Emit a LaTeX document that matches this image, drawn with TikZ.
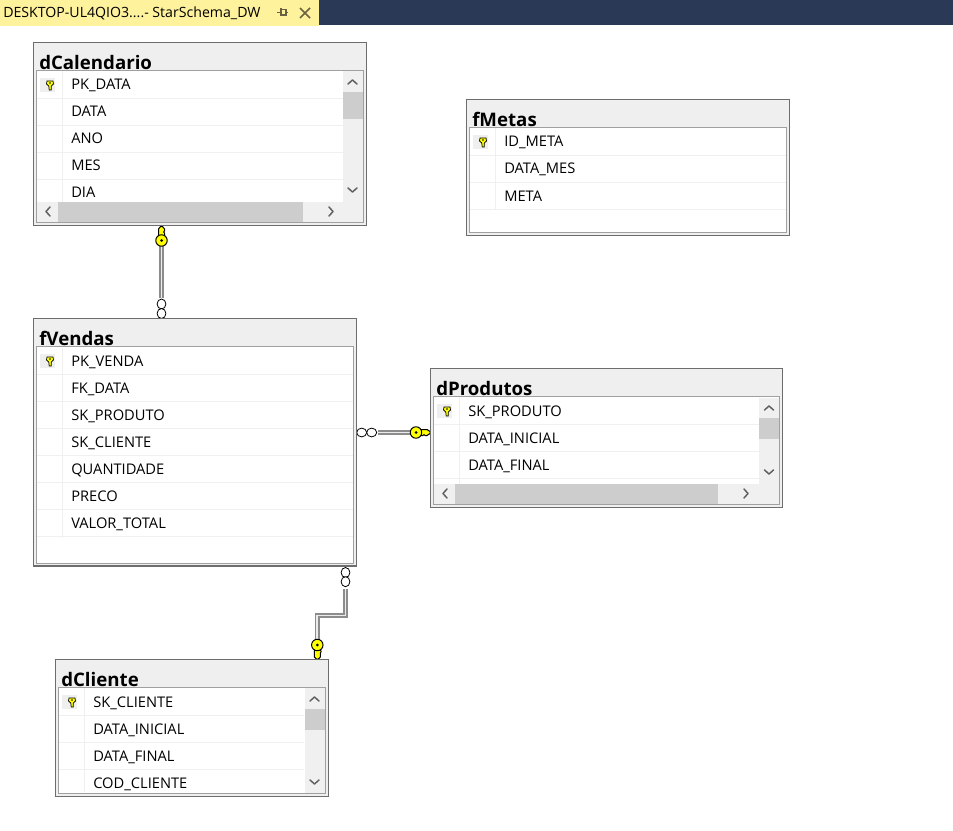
\documentclass[tikz,border=0pt]{standalone}
\usepackage{fontspec}
\setmainfont{Open Sans}
\usetikzlibrary{shapes.geometric}
\definecolor{outerc}{HTML}{6D6D6D}
\definecolor{innerc}{HTML}{A0A0A0}
\definecolor{headc}{HTML}{EFEFEF}
\definecolor{sepc}{HTML}{F0F0F0}
\definecolor{thumbc}{HTML}{CDCDCD}
\definecolor{tabc}{HTML}{FFF29D}
\definecolor{navyc}{HTML}{2A3A56}
\definecolor{keyc}{HTML}{FFFF00}
\definecolor{arrowc}{HTML}{606060}
\definecolor{iconc}{HTML}{6B6242}
\tikzset{
  x=0.75pt,y=-0.75pt,
  frameouter/.style={draw=outerc,line width=1.1pt,fill=headc},
  frameinner/.style={draw=innerc,line width=1pt,fill=white},
  rowsep/.style={draw=sepc,line width=1pt},
  titletext/.style={anchor=base west,inner sep=0pt,font=\fontsize{14}{17}\selectfont\bfseries},
  rowtext/.style={anchor=base west,inner sep=0pt,font=\fontsize{11}{13}\selectfont},
  chev/.style={draw=arrowc,line width=1.1pt,line cap=round,line join=round},
  relline/.style={draw=black!45,line width=3.5pt,line cap=butt,line join=miter},
  relinner/.style={draw=black!8,line width=1.3pt,line cap=butt,line join=miter},
  ringv/.style={draw=black,line width=0.6pt,fill=white,ellipse,inner sep=0pt,minimum width=6.6pt,minimum height=7.5pt},
  ringh/.style={draw=black,line width=0.6pt,fill=white,ellipse,inner sep=0pt,minimum width=7.5pt,minimum height=6.6pt},
  keyhead/.style={draw=black,line width=0.75pt,fill=keyc,ellipse,inner sep=0pt,minimum width=8.6pt,minimum height=8.6pt},
  keystem/.style={draw=black,line width=0.75pt,fill=keyc,line join=round},
}
% mini key glyph at (x,y)
\newcommand{\minikey}[2]{%
  \fill[headc] (#1-10,#2-7) rectangle (#1+5,#2+7);
  \draw[black,line width=0.55pt,fill=keyc] (#1-3,#2-4) -- (#1+3,#2-4) -- (#1+3.5,#2-1) -- (#1+1.3,#2+1) -- (#1+1.3,#2+5) -- (#1-0.8,#2+5) -- (#1-1.2,#2+1) -- (#1-3.5,#2-1) -- cycle;
  \fill[black] (#1,#2-2) circle (0.9);
}
% table frame: name, x1,y1,x2,y2, inner y top, inner y bottom, gutter x, title
\newcommand{\tableframe}[9]{%
  \node[frameouter,minimum width=#4*0.75pt-#2*0.75pt,minimum height=#5*0.75pt-#3*0.75pt,inner sep=0pt,outer sep=0pt,anchor=north west] (#1) at (#2,#3) {};
  \node[titletext] (#1title) at (#2+5.5,#6-1) {#9};
  \draw[frameinner] (#2+3,#6) rectangle (#4-3,#7);
  \draw[rowsep] (#8,#6+1) -- (#8,#7-1);
}
\newcommand{\fieldrow}[4]{\node[rowtext] (#1) at (#2,#3) {#4};}
\begin{document}
\begin{tikzpicture}
\useasboundingbox (0,0) rectangle (953,831);
\fill[white] (0,0) rectangle (953,831);
% tab bar
\fill[navyc] (319,0) rectangle (953,25);
\fill[tabc] (0,0) rectangle (319,26.5);
\node[anchor=base west,inner sep=0pt,font=\fontsize{10.6}{13}\selectfont] (tabtitle) at (3,18) {DESKTOP-UL4QIO3....- StarSchema\_DW};
\draw[iconc,line width=0.8pt] (277,12.5) -- (281,12.5) (281,8.5) -- (281,16.5) (281,9.5) -- (286,9.5) -- (286,15) -- (281,15) (286,12.5) -- (288,12.5);
\draw[iconc,line width=1.3pt] (300,8) -- (310,18) (310,8) -- (300,18);

% === connectors
\node[ringv] (r1a) at (161.5,304) {};
\node[ringv] (r1b) at (161.5,313.5) {};
\node[ringh] (r2a) at (361.7,432.5) {};
\node[ringh] (r2b) at (371.7,432.5) {};
\node[ringv] (r3a) at (345.5,572.5) {};
\node[ringv] (r3b) at (345.5,581.7) {};
\coordinate (k1c) at (161.5,240.5);
\coordinate (k2c) at (416,432.5);
\coordinate (k3c) at (317.3,645);
\coordinate (b1) at (345.5,615.5);
\coordinate (b2) at (317.3,615.5);

\draw[relline] (161.5,298) -- (k1c);
\draw[relinner] (161.5,298) -- (k1c);
\draw[relline] (378,432.5) -- (k2c);
\draw[relinner] (378,432.5) -- (k2c);
\draw[relline] (345.5,589) -- (b1) -- (b2) -- (k3c);
\draw[relinner] (345.5,589) -- (b1) -- (b2) -- (k3c);

% big keys
\draw[keystem] (160.5,226.5) -- (162.5,226.5) -- (164.5,229) -- (164.5,231) -- (163.5,232) -- (164.5,233) -- (164.5,238) -- (158.5,238) -- (158.5,229) -- cycle;
\node[keyhead] (k1) at (k1c) {};
\fill[black] (k1c) circle (1.5);
\draw[keystem] (430,431.5) -- (430,433.5) -- (427,435.5) -- (425,435.5) -- (424,434.5) -- (423,435.5) -- (418,435.5) -- (418,429.5) -- (427,429.5) -- cycle;
\node[keyhead] (k2) at (k2c) {};
\fill[black] (k2c) circle (1.5);
\draw[keystem] (316.3,659) -- (314.3,657) -- (314.3,648) -- (320.3,648) -- (320.3,650) -- (321.3,651.5) -- (320.3,653) -- (320.3,657) -- (318.3,659) -- cycle;
\node[keyhead] (k3) at (k3c) {};
\fill[black] (k3c) circle (1.5);

% === dCalendario
\tableframe{dCal}{33.5}{42.5}{366.5}{225.3}{70.5}{222.3}{62.5}{dCalendario}
\foreach \yy in {98.3,125.3,152.3,179.3} \draw[rowsep] (37,\yy) -- (343,\yy);
\minikey{50}{85}
\fieldrow{dCalA}{71}{90}{PK\_DATA}
\fieldrow{dCalB}{71}{117}{DATA}
\fieldrow{dCalC}{71}{144}{ANO}
\fieldrow{dCalD}{71}{171}{MES}
\fieldrow{dCalE}{71}{198}{DIA}
\fill[sepc] (343,71) rectangle (362.5,202);
\fill[thumbc] (343,92) rectangle (362.5,119);
\fill[sepc] (37,202) rectangle (362.5,221.5);
\fill[thumbc] (58,202) rectangle (303,221.5);
\draw[chev] (348,84) -- (352.5,80) -- (357,84);
\draw[chev] (348,188) -- (352.5,192) -- (357,188);
\draw[chev] (50,207) -- (46,211.5) -- (50,216);
\draw[chev] (329,207) -- (333,211.5) -- (329,216);

% === fMetas
\tableframe{fMet}{466.5}{99.3}{789.7}{235.3}{127.3}{232.3}{495.3}{fMetas}
\foreach \yy in {155.3,182.3,209.3} \draw[rowsep] (470,\yy) -- (786,\yy);
\draw[white,line width=1pt] (495.3,210) -- (495.3,231.5);
\minikey{483}{142}
\fieldrow{fMetA}{504}{147}{ID\_META}
\fieldrow{fMetB}{504}{174}{DATA\_MES}
\fieldrow{fMetC}{504}{201}{META}

% === fVendas
\tableframe{fVen}{33.5}{318.7}{356.7}{566}{346.7}{563.3}{62.7}{fVendas}
\foreach \yy in {374.7,401.7,428.7,455.7,482.7,509.7,536.7} \draw[rowsep] (37,\yy) -- (353,\yy);
\draw[white,line width=1pt] (62.7,537.5) -- (62.7,562.5);
\minikey{50}{361}
\fieldrow{fVenA}{71}{366}{PK\_VENDA}
\fieldrow{fVenB}{71}{393}{FK\_DATA}
\fieldrow{fVenC}{71}{420}{SK\_PRODUTO}
\fieldrow{fVenD}{71}{447}{SK\_CLIENTE}
\fieldrow{fVenE}{71}{474}{QUANTIDADE}
\fieldrow{fVenF}{71}{501}{PRECO}
\fieldrow{fVenG}{71}{528}{VALOR\_TOTAL}

% === dProdutos
\tableframe{dPro}{430.5}{368.7}{782.7}{507.3}{396.7}{504.3}{459.3}{dProdutos}
\foreach \yy in {424.7,451.7,478.7} \draw[rowsep] (434,\yy) -- (759,\yy);
\minikey{447}{411}
\fieldrow{dProA}{468}{416}{SK\_PRODUTO}
\fieldrow{dProB}{468}{443}{DATA\_INICIAL}
\fieldrow{dProC}{468}{470}{DATA\_FINAL}
\fill[sepc] (759,397.5) rectangle (779,484);
\fill[thumbc] (759,418) rectangle (779,439);
\fill[sepc] (434,484) rectangle (779,503.5);
\fill[thumbc] (455,484) rectangle (718,503.5);
\draw[chev] (764.5,410) -- (769,406) -- (773.5,410);
\draw[chev] (764.5,470) -- (769,474) -- (773.5,470);
\draw[chev] (447,489) -- (443,493.5) -- (447,498);
\draw[chev] (744,489) -- (748,493.5) -- (744,498);

% === dCliente
\tableframe{dCli}{55.5}{659.3}{328.7}{796.3}{687.3}{793.3}{84.3}{dCliente}
\foreach \yy in {715.7,742.7,769.7} \draw[rowsep] (59,\yy) -- (304,\yy);
\minikey{72}{702}
\fieldrow{dCliA}{93}{707}{SK\_CLIENTE}
\fieldrow{dCliB}{93}{734}{DATA\_INICIAL}
\fieldrow{dCliC}{93}{761}{DATA\_FINAL}
\fieldrow{dCliD}{93}{788}{COD\_CLIENTE}
\fill[sepc] (305,688) rectangle (325,792.8);
\fill[thumbc] (305,709) rectangle (325,730);
\draw[chev] (310,701) -- (314.5,697) -- (319,701);
\draw[chev] (310,780) -- (314.5,784) -- (319,780);
\end{tikzpicture}
\end{document}
